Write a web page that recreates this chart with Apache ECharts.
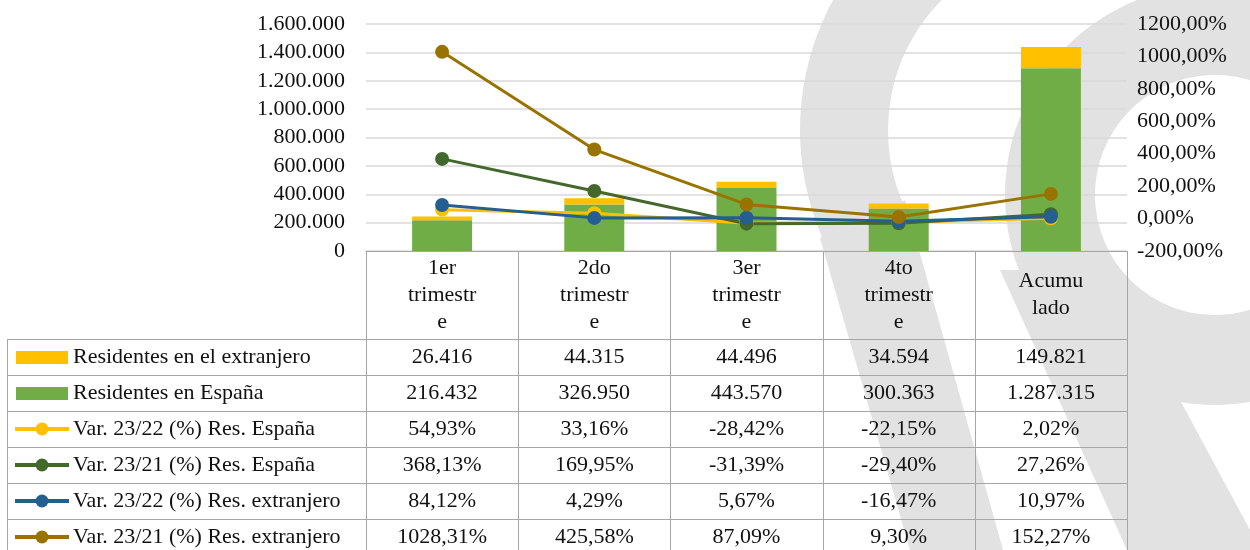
<!DOCTYPE html>
<html>
<head>
<meta charset="utf-8">
<script src="https://cdn.jsdelivr.net/npm/echarts@6/dist/echarts.min.js"></script>
<style>
  html, body { margin: 0; padding: 0; background: #fff; }
  #chart { width: 1250px; height: 550px; }
</style>
</head>
<body>
<div id="chart"></div>
<script>
  const categories = ['1er\ntrimestr\ne', '2do\ntrimestr\ne', '3er\ntrimestr\ne', '4to\ntrimestr\ne', 'Acumu\nlado'];
  const resExtranjero = [26416, 44315, 44496, 34594, 149821];
  const resEspana = [216432, 326950, 443570, 300363, 1287315];
  const var2322Esp = [54.93, 33.16, -28.42, -22.15, 2.02];
  const var2321Esp = [368.13, 169.95, -31.39, -29.40, 27.26];
  const var2322Ext = [84.12, 4.29, 5.67, -16.47, 10.97];
  const var2321Ext = [1028.31, 425.58, 87.09, 9.30, 152.27];

  const FONT = '"Liberation Serif", "DejaVu Serif", serif';
  const TXT = '#111';
  const BORDER = '#A6A6A6';

  // layout
  const plotLeft = 366, plotRight = 1127, plotTop = 24, plotBottom = 251;
  const headerBottom = 339, rowH = 36, tableLeft = 7;

  const miles = v => String(v).replace(/\B(?=(\d{3})+(?!\d))/g, '.');
  const pct = v => v.toFixed(2).replace('.', ',') + '%';

  const rows = [
    { name: 'Residentes en el extranjero', color: '#FFC000', kind: 'bar', data: resExtranjero, fmt: miles },
    { name: 'Residentes en España', color: '#70AD47', kind: 'bar', data: resEspana, fmt: miles },
    { name: 'Var. 23/22 (%) Res. España', color: '#FFC000', kind: 'line', data: var2322Esp, fmt: pct },
    { name: 'Var. 23/21 (%) Res. España', color: '#43682B', kind: 'line', data: var2321Esp, fmt: pct },
    { name: 'Var. 23/22 (%) Res. extranjero', color: '#255E91', kind: 'line', data: var2322Ext, fmt: pct },
    { name: 'Var. 23/21 (%) Res. extranjero', color: '#997300', kind: 'line', data: var2321Ext, fmt: pct }
  ];

  // marca de agua de fondo
  const WM = '#E2E2E2';
  const graphics = [
    { type: 'sector', z: -10, silent: true,
      shape: { cx: 1072, cy: 130, r: 272, r0: 184, startAngle: Math.PI * 0.8, endAngle: Math.PI * 1.5 },
      style: { fill: WM } },
    { type: 'polygon', z: -10, silent: true,
      shape: { points: [[820, 238], [905, 200], [1003, 550], [910, 550]] }, style: { fill: WM } },
    { type: 'sector', z: -10, silent: true,
      shape: { cx: 1215, cy: 195, r: 210, r0: 120, startAngle: Math.PI * 0.35, endAngle: Math.PI * 1.65 },
      style: { fill: WM } },
    { type: 'polygon', z: -10, silent: true,
      shape: { points: [[1000, 270], [1100, 270], [1180, 400], [1250, 530], [1250, 550], [1127, 550]] },
      style: { fill: WM } }
  ];

  // tabla de datos
  const colW = (plotRight - plotLeft) / categories.length;
  const line = (x1, y1, x2, y2) => ({ type: 'line', z: 20, silent: true,
    shape: { x1, y1, x2, y2 }, style: { stroke: BORDER, lineWidth: 1 } });

  for (let i = 0; i <= categories.length; i++) {
    const x = Math.round(plotLeft + i * colW) + 0.5;
    graphics.push(line(x, plotBottom, x, 560));
  }
  graphics.push(line(tableLeft + 0.5, headerBottom, tableLeft + 0.5, 560));
  for (let r = 0; r <= rows.length; r++) {
    const y = headerBottom + r * rowH + 0.5;
    graphics.push(line(tableLeft, y, plotRight, y));
  }

  rows.forEach((row, r) => {
    const cy = headerBottom + r * rowH + rowH / 2;
    if (row.kind === 'bar') {
      graphics.push({ type: 'rect', z: 20, silent: true,
        shape: { x: 16, y: cy - 6, width: 52, height: 13 }, style: { fill: row.color } });
    } else {
      graphics.push({ type: 'line', z: 20, silent: true,
        shape: { x1: 15, y1: cy, x2: 69, y2: cy }, style: { stroke: row.color, lineWidth: 4 } });
      graphics.push({ type: 'circle', z: 21, silent: true,
        shape: { cx: 42, cy: cy, r: 6.5 }, style: { fill: row.color } });
    }
    graphics.push({ type: 'text', z: 20, silent: true, x: 73, y: cy,
      style: { text: row.name, font: '22px ' + FONT, fill: TXT, align: 'left', verticalAlign: 'middle' } });
    row.data.forEach((v, c) => {
      graphics.push({ type: 'text', z: 20, silent: true, x: plotLeft + (c + 0.5) * colW, y: cy,
        style: { text: row.fmt(v), font: '22px ' + FONT, fill: TXT, align: 'center', verticalAlign: 'middle' } });
    });
  });

  const lineSeries = rows.filter(r => r.kind === 'line').map(r => ({
    name: r.name,
    type: 'line',
    yAxisIndex: 1,
    data: r.data,
    symbol: 'circle',
    symbolSize: 14,
    lineStyle: { color: r.color, width: 3 },
    itemStyle: { color: r.color },
    z: 5
  }));

  const chart = echarts.init(document.getElementById('chart'));
  chart.setOption({
    animation: false,
    backgroundColor: '#fff',
    grid: { left: plotLeft, right: 1250 - plotRight, top: plotTop, bottom: 550 - plotBottom, containLabel: false },
    xAxis: {
      type: 'category',
      data: categories,
      axisLine: { show: true, lineStyle: { color: BORDER, width: 1 } },
      axisTick: { show: false },
      axisLabel: {
        interval: 0, margin: 44, verticalAlign: 'middle', lineHeight: 27,
        fontSize: 22, fontFamily: FONT, color: TXT
      }
    },
    yAxis: [
      {
        type: 'value', min: 0, max: 1600000, interval: 200000,
        axisLine: { show: false }, axisTick: { show: false },
        axisLabel: { margin: 21, fontSize: 22, fontFamily: FONT, color: TXT, formatter: miles },
        splitLine: { lineStyle: { color: '#D9D9D9', width: 1.5 } }
      },
      {
        type: 'value', position: 'right', min: -200, max: 1200, interval: 200,
        axisLine: { show: false }, axisTick: { show: false },
        axisLabel: { margin: 10, fontSize: 22, fontFamily: FONT, color: TXT, formatter: pct },
        splitLine: { show: false }
      }
    ],
    series: [
      { name: rows[1].name, type: 'bar', stack: 'total', data: resEspana, barWidth: 60,
        itemStyle: { color: '#70AD47' } },
      { name: rows[0].name, type: 'bar', stack: 'total', data: resExtranjero, barWidth: 60,
        itemStyle: { color: '#FFC000' } }
    ].concat(lineSeries),
    graphic: { elements: graphics }
  });
</script>
</body>
</html>
